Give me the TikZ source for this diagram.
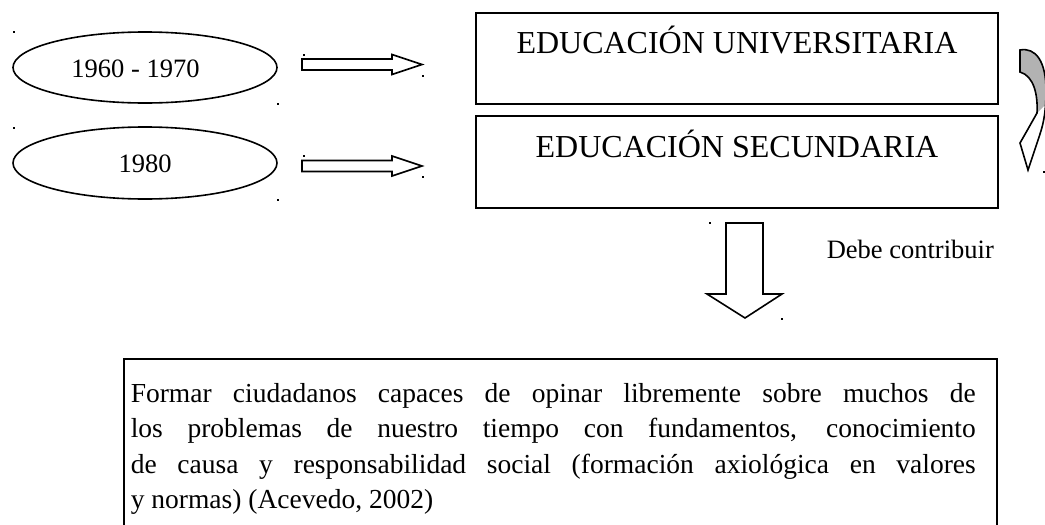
\documentclass[tikz,border=0pt]{standalone}
\usepackage{fontspec}
\setmainfont{Liberation Serif}

\begin{document}
\begin{tikzpicture}[x=1pt, y=-1pt, line width=1.6pt,
    lbl/.style={inner sep=0pt, font=\fontsize{26.5}{32}\selectfont},
    titulo/.style={inner sep=0pt, font=\fontsize{32}{38}\selectfont}]
    \useasboundingbox (0,0) rectangle (1045,525);

    \draw (145,67.5) ellipse (132 and 35.5);
    \draw (145,163) ellipse (132 and 36);
    \node[lbl, anchor=base] (periodoA) at (135.5,77) {1960 - 1970};
    \node[lbl, anchor=base] (periodoB) at (145,172) {1980};

    \foreach \y in {64.5,166} {
        \draw (302,\y-5.5) -- (392,\y-5.5) -- (392,\y-10) -- (422,\y) -- (392,\y+10) -- (392,\y+5.5) -- (302,\y+5.5) -- cycle;
    }

    \draw (476,13) rectangle (998,104);
    \draw (476,116) rectangle (998,208);
    \node[titulo, anchor=base] (univ) at (737,53) {EDUCACIÓN UNIVERSITARIA};
    \node[titulo, anchor=base] (secu) at (737,157) {EDUCACIÓN SECUNDARIA};

    % flecha curva
    \fill[gray!60] (1020,50) .. controls (1036,47) and (1046,62) .. (1046,90) -- (1046,104) -- (1037,113) .. controls (1038,95) and (1034,76) .. (1020,72) -- cycle;
    \draw[line join=miter] (1020,50) .. controls (1036,47) and (1046,62) .. (1046,90) .. controls (1046,110) and (1044,122) .. (1040,134) -- (1028,170) -- (1020,143) -- (1028,129) -- (1037,113) .. controls (1038,95) and (1034,76) .. (1020,72) -- cycle;

    \draw (726,223) -- (763,223) -- (763,294) -- (782,294) -- (745,318) -- (707,294) -- (726,294) -- cycle;
    \node[lbl, anchor=base west] (debe) at (826,258) {Debe contribuir};

    \draw (124,359) rectangle (997,540);
    \node[anchor=base west, inner sep=0pt, text width=845pt, align=justify,
        font=\fontsize{27.5}{35.5}\selectfont] (meta) at (130,402)
        {\tolerance=10000 \hyphenpenalty=10000
        Formar ciudadanos capaces de opinar libremente sobre muchos de\linebreak
        los problemas de nuestro tiempo con fundamentos, conocimiento\linebreak
        de causa y responsabilidad social (formación axiológica en valores\linebreak
        y normas) (Acevedo, 2002)};

    \foreach \p in {(13,31),(277,103),(13,127),(277,199),(303,54),(422,75),(303,155),(422,176),(709,222),(781,318),(1043,171)}
        \fill \p rectangle +(2,2);
\end{tikzpicture}
\end{document}
